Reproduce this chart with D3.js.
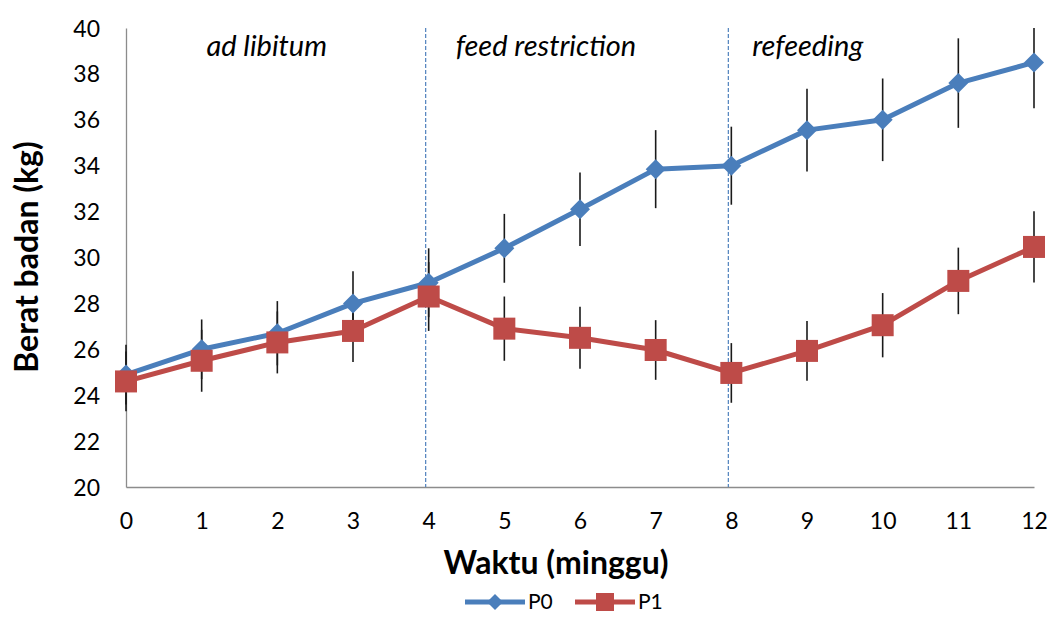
<!DOCTYPE html>
<html>
<head>
<script src="https://d3js.org/d3.v7.min.js"></script>
<style>
  body { margin: 0; background: #fff; }
  text { font-family: Lato, "Open Sans", sans-serif; fill: #000; }
</style>
</head>
<body>
<script>
// data
const weeks = [0, 1, 2, 3, 4, 5, 6, 7, 8, 9, 10, 11, 12];
const p0 = [24.9, 26.0, 26.7, 28.0, 28.9, 30.4, 32.1, 33.85, 34.0, 35.55, 36.0, 37.6, 38.5];
const p0Err = [1.3, 1.3, 1.4, 1.4, 1.5, 1.5, 1.6, 1.7, 1.7, 1.8, 1.8, 1.95, 2.0];
const p1 = [24.6, 25.5, 26.3, 26.8, 28.3, 26.9, 26.5, 25.97, 24.97, 25.93, 27.05, 28.98, 30.46];
const p1Err = [1.3, 1.35, 1.35, 1.35, 1.5, 1.4, 1.35, 1.3, 1.3, 1.3, 1.4, 1.45, 1.55];
const yTicks = [20, 22, 24, 26, 28, 30, 32, 34, 36, 38, 40];
const phaseBreaks = [4, 8];
const phases = [
  {label: "ad libitum", at: 1.86},
  {label: "feed restriction", at: 5.55},
  {label: "refeeding", at: 9.01}
];

const W = 1052, H = 617;
const margin = {top: 28, right: 18, bottom: 130, left: 126};
const width = W - margin.left - margin.right,
      height = H - margin.top - margin.bottom;

const x = d3.scaleLinear().domain([0, 12]).range([0, width]);
const y = d3.scaleLinear().domain([20, 40]).range([height, 0]);

const svg = d3.select("body").append("svg")
  .attr("width", W).attr("height", H);
const g = svg.append("g")
  .attr("transform", "translate(" + margin.left + "," + margin.top + ")");

// axes
const xAxis = g.append("g")
  .attr("transform", "translate(0," + height + ")")
  .call(d3.axisBottom(x).tickValues(weeks).tickSize(0).tickPadding(26).tickFormat(d3.format("d")));
const yAxis = g.append("g")
  .call(d3.axisLeft(y).tickValues(yTicks).tickSize(0).tickPadding(26));
[xAxis, yAxis].forEach(a => {
  a.select(".domain").attr("stroke", "#8c8c8c").attr("stroke-width", 1.3);
  a.selectAll("text").style("font-size", "23px").style("font-family", "Lato, sans-serif").attr("fill", "#222");
});
yAxis.selectAll("text").attr("dy", "0.35em");

// phase separators
g.selectAll(".sep").data(phaseBreaks).join("line")
  .attr("x1", d => x(d) - 3).attr("x2", d => x(d) - 3)
  .attr("y1", 0).attr("y2", height)
  .attr("stroke", "#4f81bd").attr("stroke-width", 1.2)
  .attr("stroke-dasharray", "4,2");

g.selectAll(".phase").data(phases).join("text")
  .attr("x", d => x(d.at)).attr("y", 28)
  .attr("text-anchor", "middle")
  .style("font-style", "italic").style("font-size", "29px")
  .text(d => d.label);

const series = [
  {name: "P0", vals: p0, err: p0Err, color: "#4a7ebb", shape: "diamond"},
  {name: "P1", vals: p1, err: p1Err, color: "#be4b48", shape: "square"}
];

const line = d3.line().x((d, i) => x(weeks[i])).y(d => y(d));

function marker(sel, shape, color) {
  if (shape === "diamond") {
    sel.append("path").attr("d", "M0,-10L10,0L0,10L-10,0Z").attr("fill", color);
  } else {
    sel.append("rect").attr("x", -11).attr("y", -11).attr("width", 22).attr("height", 22).attr("fill", color);
  }
}

series.forEach(s => {
  g.append("path").datum(s.vals)
    .attr("d", line).attr("fill", "none")
    .attr("stroke", s.color).attr("stroke-width", 5).attr("stroke-linejoin", "round");
});

series.forEach(s => {
  g.selectAll(null).data(s.vals).join("line")
    .attr("x1", (d, i) => x(weeks[i])).attr("x2", (d, i) => x(weeks[i]))
    .attr("y1", (d, i) => y(Math.min(40, d + s.err[i])))
    .attr("y2", (d, i) => y(d - s.err[i]))
    .attr("stroke", "#1a1a1a").attr("stroke-width", 1.6);
});

series.forEach(s => {
  g.selectAll(null).data(s.vals).join("g")
    .attr("transform", (d, i) => "translate(" + x(weeks[i]) + "," + y(d) + ")")
    .each(function() { marker(d3.select(this), s.shape, s.color); });
});

// axis titles
svg.append("text")
  .attr("x", 556).attr("y", 574)
  .attr("text-anchor", "middle")
  .style("font-weight", "bold").style("font-size", "32px")
  .text("Waktu (minggu)");
svg.append("text")
  .attr("transform", "translate(38,257) rotate(-90)")
  .attr("text-anchor", "middle")
  .style("font-weight", "bold").style("font-size", "32px")
  .text("Berat badan (kg)");

// legend
const legend = svg.append("g").attr("transform", "translate(465,602)");
series.forEach((s, i) => {
  const lg = legend.append("g").attr("transform", "translate(" + (i * 110) + ",0)");
  lg.append("line").attr("x1", 0).attr("x2", 60).attr("stroke", s.color).attr("stroke-width", 5);
  const m = lg.append("g").attr("transform", "translate(30,0)");
  if (s.shape === "diamond") {
    m.append("path").attr("d", "M0,-8L8,0L0,8L-8,0Z").attr("fill", s.color);
  } else {
    m.append("rect").attr("x", -9).attr("y", -9).attr("width", 18).attr("height", 18).attr("fill", s.color);
  }
  lg.append("text").attr("x", 63).attr("dy", "0.35em")
    .style("font-size", "21px").text(s.name);
});
</script>
</body>
</html>
